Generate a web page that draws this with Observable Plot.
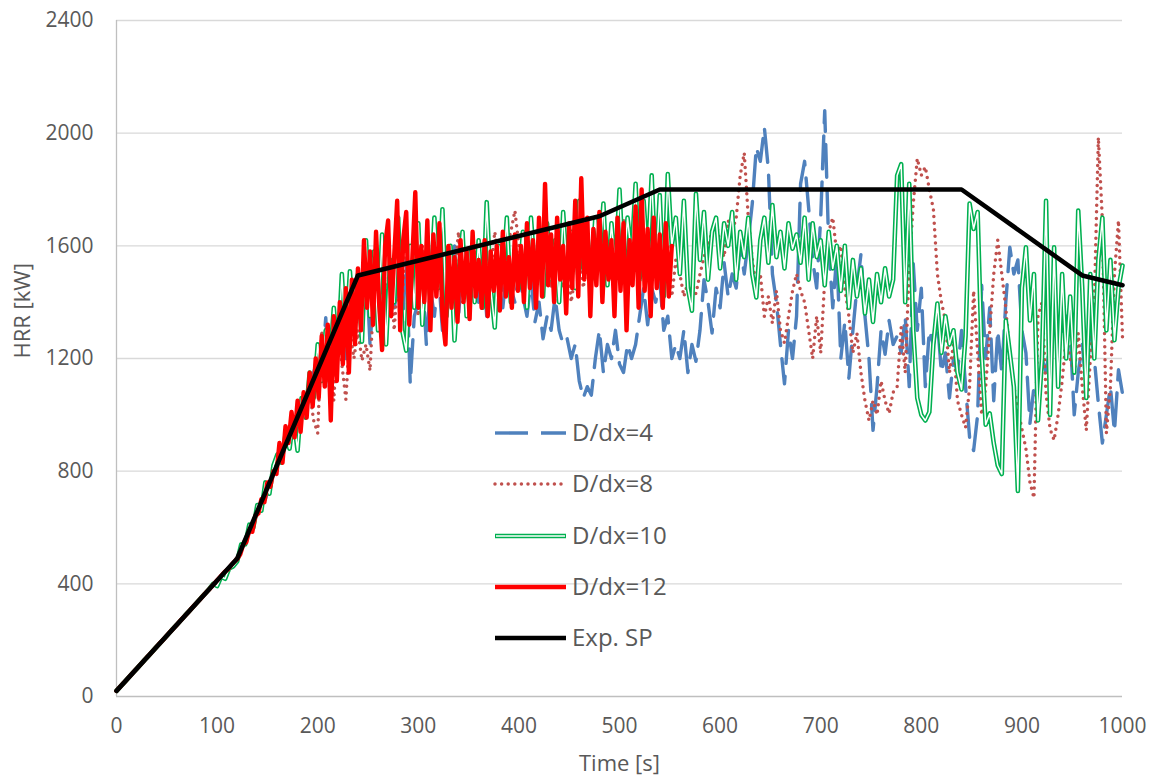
<!DOCTYPE html>
<html><head><meta charset="utf-8">
<script src="https://cdn.jsdelivr.net/npm/d3@7"></script>
<script src="https://cdn.jsdelivr.net/npm/@observablehq/plot@0.6"></script>
<style>
body{margin:0;background:#fff;font-family:"Open Sans",sans-serif}
#wrap{position:relative;width:1152px;height:780px}
</style></head>
<body><div id="wrap"></div>
<script>
const xTicks = [0,100,200,300,400,500,600,700,800,900,1000];
const yTicks = [0,400,800,1200,1600,2000,2400];
const seriesNames = ["D/dx=4","D/dx=8","D/dx=10","D/dx=12","Exp. SP"];
const xTitle = "Time [s]";
const yTitle = "HRR [kW]";

// Experimental (Exp. SP)
const expTime = [0,120,240,480,540,840,960,1000];
const expHRR  = [20,490,1495,1705,1800,1800,1495,1460];

// D/dx=12 sampled every 3 s from t=0
const step12 = 3;
const hrr12 = [
20,32,44,55,67,79,91,102,114,126,
138,149,161,173,185,196,208,220,232,243,
255,267,279,290,302,314,326,337,349,361,
373,384,396,408,420,432,444,452,466,478,
488,505,540,548,590,585,640,650,700,690,
760,745,800,790,900,830,960,900,1010,920,
1050,940,1080,990,1150,1030,1200,1060,1280,1100,
1320,980,1350,1120,1400,1180,1450,1150,1480,1250,
1520,1300,1620,1380,1580,1320,1650,1400,1230,1600,
1690,1350,1560,1760,1300,1620,1720,1320,1550,1790,
1380,1600,1400,1690,1300,1640,1420,1680,1350,1250,
1600,1380,1560,1330,1620,1400,1580,1340,1650,1420,
1550,1380,1620,1350,1580,1440,1600,1370,1650,1420,
1560,1380,1640,1440,1600,1400,1680,1450,1620,1380,
1700,1420,1820,1460,1640,1400,1700,1480,1600,1360,
1680,1450,1760,1420,1840,1480,1700,1350,1660,1460,
1720,1400,1650,1480,1620,1350,1700,1440,1680,1300,
1620,1460,1740,1380,1800,1440,1660,1350,1700,1450,
1640,1380,1680,1420,1600];

// D/dx=4, 8, 10 sampled every 4 s from t=0
const step4 = 4;
const hrr4 = [
20,36,51,67,83,98,114,130,145,161,
177,192,208,224,240,255,271,287,302,318,
334,350,365,381,397,412,428,444,460,475,
495,520,560,580,620,640,690,700,750,770,
830,850,900,920,960,1000,1050,1060,1120,1150,
1200,1150,1345,1085,1300,1250,1380,1200,1450,1350,
1480,1300,1550,1250,1450,1350,1600,1280,1500,1380,
1450,1300,1550,1110,1350,1400,1500,1250,1450,1350,
1500,1300,1550,1400,1600,1350,1550,1400,1500,1450,
1400,1550,1350,1500,1420,1580,1380,1520,1450,1400,
1500,1420,1350,1480,1330,1400,1270,1350,1300,1420,
1300,1250,1270,1200,1250,1120,1060,1100,1070,1200,
1300,1150,1250,1200,1300,1180,1150,1250,1200,1250,
1350,1450,1320,1450,1400,1480,1300,1350,1200,1250,
1200,1300,1150,1250,1190,1300,1480,1400,1290,1450,
1380,1540,1420,1500,1450,1600,1500,1620,1750,1950,
1900,2020,1870,1500,1400,1250,1110,1300,1200,1350,
1820,1900,1735,1550,1450,1700,2080,1600,1380,1570,
1200,1330,1130,1300,1450,1570,1350,1200,945,1100,
1300,1215,1335,1250,1280,1220,1350,1100,1537,1300,
1450,1100,1300,1250,1335,1150,1220,1060,1200,1150,
1300,1100,920,873,1000,1460,1200,1380,1050,1300,
1150,1400,1595,1500,1550,1300,1220,970,1100,1050,
1200,1150,1250,1360,1220,1300,1350,1290,1000,1150,
1250,1100,1300,1200,1040,900,1000,1100,940,1160,
1075];

const hrr8 = [
20,36,51,67,83,98,114,130,145,161,
177,192,208,224,240,255,271,287,302,318,
334,350,365,381,397,412,428,444,460,475,
495,530,560,590,620,650,690,720,750,790,
830,860,900,930,970,1010,1050,1000,1080,980,
935,1300,1100,1250,1050,1320,1180,1055,1300,1200,
1300,1193,1250,1157,1450,1350,1600,1400,1550,1300,
1500,1400,1650,1450,1550,1350,1600,1500,1450,1600,
1550,1400,1600,1450,1500,1650,1400,1550,1500,1600,
1450,1550,1600,1500,1650,1550,1480,1600,1650,1725,
1600,1500,1650,1550,1450,1600,1500,1550,1450,1600,
1500,1450,1550,1400,1500,1600,1450,1550,1500,1650,
1550,1600,1500,1650,1550,1600,1700,1500,1600,1550,
1650,1500,1600,1550,1650,1480,1560,1600,1420,1550,
1500,1420,1470,1450,1430,1500,1560,1600,1650,1690,
1600,1560,1690,1650,1700,1850,1930,1700,1550,1450,
1500,1350,1420,1325,1440,1300,1255,1350,1440,1500,
1440,1400,1300,1200,1350,1220,1480,1650,1700,1570,
1600,1450,1350,1220,1290,1150,1050,980,1050,1000,
1120,1050,1005,1080,1100,1310,1150,1525,1750,1910,
1850,1880,1800,1730,1500,1400,1335,1150,1250,1050,
1000,955,1100,1440,1220,1000,1100,1300,1500,1620,
1500,1380,1200,1100,1020,950,880,760,705,1350,
1400,1075,950,910,1000,1120,1270,1200,1150,1290,
1100,945,1200,1400,1985,1690,935,1100,1500,1690,
1275];

const hrr10 = [
20,36,51,67,83,98,114,130,145,161,
177,192,208,224,240,255,271,287,302,318,
334,350,365,381,400,392,425,418,455,462,
480,540,540,610,600,680,660,760,720,820,
860,830,930,880,990,873,1060,990,1150,1060,
1250,1120,1300,1180,1380,1210,1500,1250,1510,1300,
1500,1260,1620,1350,1580,1300,1640,1250,1550,1400,
1700,1300,1228,1600,1380,1680,1320,1560,1420,1700,
1450,1730,1350,1600,1264,1500,1650,1350,1580,1400,
1620,1380,1755,1450,1310,1600,1480,1700,1400,1560,
1450,1650,1380,1700,1500,1600,1420,1680,1480,1620,
1400,1720,1500,1650,1450,1760,1520,1640,1480,1700,
1550,1750,1460,1680,1520,1800,1500,1700,1560,1820,
1480,1760,1540,1850,1500,1780,1420,1855,1600,1700,
1500,1760,1450,1370,1785,1550,1720,1480,1650,1700,
1520,1680,1600,1720,1480,1650,1560,1700,1500,1417,
1620,1700,1540,1745,1560,1650,1520,1680,1590,1640,
1540,1700,1480,1680,1560,1620,1460,1650,1520,1600,
1440,1600,1380,1550,1420,1520,1360,1480,1330,1500,
1400,1520,1420,1480,1850,1890,1400,1820,1300,1060,
1000,980,1010,1250,1395,1220,1350,1250,1300,1150,
1090,1280,1750,1660,1720,1220,965,1005,900,820,
790,1335,1220,1100,730,1450,1595,1335,1500,980,
1200,1760,1000,1595,1100,1500,1200,1420,1150,1725,
1450,1060,1500,1200,1550,1700,1300,1550,1265,1450,
1530];

const toRows = (vals, step) => vals.map((v, i) => ({t: i * step, v}));
const rows4 = toRows(hrr4, step4);
const rows8 = toRows(hrr8, step4);
const rows10 = toRows(hrr10, step4);
const rows12 = toRows(hrr12, step12);
const rowsExp = expTime.map((t, i) => ({t, v: expHRR[i]}));

const styles = [
  {stroke:"#4F81BD", strokeWidth:3.4, strokeDasharray:"33,13"},
  {stroke:"#C0504D", strokeWidth:3.5, strokeDasharray:"0,6.6", strokeLinecap:"round"},
  {stroke:"#00B050", strokeWidth:4.6},
  {stroke:"#FF0000", strokeWidth:4.4},
  {stroke:"#000000", strokeWidth:4.6}
];

const chart = Plot.plot({
  width: 1152, height: 780,
  marginLeft: 116, marginRight: 30, marginTop: 20, marginBottom: 84,
  style: {fontFamily: '"Open Sans", sans-serif', fontSize: "21px", color: "#595959", background: "#fff", overflow: "visible"},
  x: {domain: [0, 1000], ticks: xTicks, tickSize: 0, tickPadding: 22, tickFormat: d => String(d), label: null},
  y: {domain: [0, 2400], ticks: yTicks, tickSize: 0, tickPadding: 23, tickFormat: d => String(d), label: null},
  marks: [
    Plot.ruleY(yTicks.slice(1), {stroke: "#D9D9D9", strokeWidth: 1.3}),
    Plot.ruleX([0], {stroke: "#BFBFBF", strokeWidth: 1.3}),
    Plot.ruleY([0], {stroke: "#BFBFBF", strokeWidth: 1.6}),
    Plot.line(rows4, {x: "t", y: "v", ...styles[0], strokeLinejoin: "round"}),
    Plot.line(rows8, {x: "t", y: "v", ...styles[1], strokeLinejoin: "round"}),
    Plot.line(rows10, {x: "t", y: "v", ...styles[2], strokeLinejoin: "round"}),
    Plot.line(rows10, {x: "t", y: "v", stroke: "#fff", strokeWidth: 1.5, strokeLinejoin: "round"}),
    Plot.line(rows12, {x: "t", y: "v", ...styles[3], strokeLinejoin: "round"}),
    Plot.line(rowsExp, {x: "t", y: "v", ...styles[4], strokeLinejoin: "round"}),
    Plot.text([xTitle], {text: d => d, frameAnchor: "bottom", dy: 74, fontSize: 22, fill: "#595959"}),
    Plot.text([yTitle], {text: d => d, frameAnchor: "left", dx: -94, rotate: -90, fontSize: 22, fill: "#595959"})
  ]
});
const wrap = document.getElementById("wrap");
wrap.appendChild(chart);

// Legend overlay inside the plot area
const lg = d3.select(wrap).append("svg")
  .attr("width", 1152).attr("height", 780)
  .style("position", "absolute").style("left", "0px").style("top", "0px")
  .style("pointer-events", "none");
const rowY = [433, 484, 536, 587, 638];
seriesNames.forEach((name, i) => {
  const s = styles[i];
  const ln = lg.append("line").attr("x1", 495).attr("x2", 566).attr("y1", rowY[i]).attr("y2", rowY[i])
    .attr("stroke", s.stroke).attr("stroke-width", s.strokeWidth);
  if (s.strokeDasharray) ln.attr("stroke-dasharray", s.strokeDasharray);
  if (s.strokeLinecap) ln.attr("stroke-linecap", s.strokeLinecap);
  if (i === 2) {
    lg.append("line").attr("x1", 496).attr("x2", 565).attr("y1", rowY[i]).attr("y2", rowY[i])
      .attr("stroke", "#fff").attr("stroke-width", 1.5);
  }
  lg.append("text").attr("x", 572).attr("y", rowY[i]).attr("dy", "0.35em")
    .attr("fill", "#595959").style("font-family", '"Open Sans", sans-serif').style("font-size", "24px")
    .text(name);
});
</script>
</body></html>
